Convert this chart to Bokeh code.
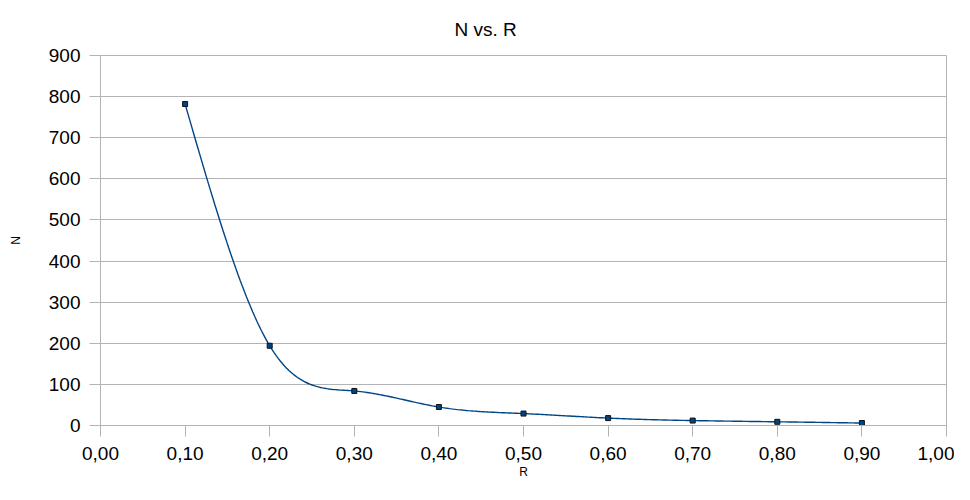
import numpy as np
from bokeh.plotting import figure
from bokeh.models import Range1d, FixedTicker
from bokeh.embed import file_html
from bokeh.resources import INLINE

# ---- data ----
r_values = [0.1, 0.2, 0.3, 0.4, 0.5, 0.6, 0.7, 0.8, 0.9]
n_values = [782, 194, 84, 45, 29, 18, 12, 9, 6]

x_ticks = [0.0, 0.1, 0.2, 0.3, 0.4, 0.5, 0.6, 0.7, 0.8, 0.9, 1.0]
x_tick_labels = ["0,00", "0,10", "0,20", "0,30", "0,40", "0,50",
                 "0,60", "0,70", "0,80", "0,90", "1,00"]
y_ticks = [0, 100, 200, 300, 400, 500, 600, 700, 800, 900]

title_text = "N vs. R"
x_label = "R"
y_label = "N"


def natural_spline(xs, ys, samples=40):
    xs = np.asarray(xs, float)
    ys = np.asarray(ys, float)
    n = len(xs)
    h = np.diff(xs)
    A = np.zeros((n, n))
    b = np.zeros(n)
    A[0, 0] = 1.0
    A[-1, -1] = 1.0
    for i in range(1, n - 1):
        A[i, i - 1] = h[i - 1]
        A[i, i] = 2 * (h[i - 1] + h[i])
        A[i, i + 1] = h[i]
        b[i] = 3 * ((ys[i + 1] - ys[i]) / h[i] - (ys[i] - ys[i - 1]) / h[i - 1])
    c = np.linalg.solve(A, b)
    out_x, out_y = [], []
    for i in range(n - 1):
        bi = (ys[i + 1] - ys[i]) / h[i] - h[i] * (2 * c[i] + c[i + 1]) / 3
        di = (c[i + 1] - c[i]) / (3 * h[i])
        t = np.linspace(0, h[i], samples, endpoint=(i == n - 2))
        out_x.extend(xs[i] + t)
        out_y.extend(ys[i] + bi * t + c[i] * t ** 2 + di * t ** 3)
    return out_x, out_y


sx, sy = natural_spline(r_values, n_values)

FONT = "Liberation Sans"
GRID = "#b3b3b3"

p = figure(width=954, height=484, output_backend="svg", toolbar_location=None,
           x_range=Range1d(0, 1), y_range=Range1d(0, 900),
           min_border_left=100, min_border_right=8, min_border_top=55,
           min_border_bottom=59)

p.title.text = title_text
p.title.align = "left"
p.title.offset = 354
p.title.vertical_align = "middle"
p.title.standoff = 30
p.title.text_font = FONT
p.title.text_font_size = "19px"
p.title.text_font_style = "normal"
p.title.text_color = "#000000"

p.line(sx, sy, line_color="#004586", line_width=1.4)
p.scatter(r_values, n_values, marker="square", size=5,
          fill_color="#004586", line_color="#111111", line_width=1)

p.xaxis.ticker = FixedTicker(ticks=x_ticks)
p.xaxis.major_label_overrides = {t: l for t, l in zip(x_ticks, x_tick_labels)}
p.yaxis.ticker = FixedTicker(ticks=y_ticks)

for ax in (p.xaxis, p.yaxis):
    ax.axis_line_color = GRID
    ax.major_tick_line_color = GRID
    ax.minor_tick_line_color = None
    ax.major_tick_out = 11
    ax.major_tick_in = 0
    ax.major_label_text_font = FONT
    ax.major_label_text_font_size = "19px"
    ax.major_label_text_color = "#000000"
    ax.axis_label_text_font = FONT
    ax.axis_label_text_font_size = "12px"
    ax.axis_label_text_font_style = "normal"
    ax.axis_label_text_color = "#000000"

p.xaxis.axis_label = x_label
p.yaxis.axis_label = y_label
p.xaxis.major_label_standoff = 10
p.yaxis.major_label_standoff = 9
p.xaxis.axis_label_standoff = 2
p.yaxis.axis_label_standoff = 23

p.xgrid.grid_line_color = None
p.ygrid.grid_line_color = GRID
p.outline_line_color = GRID
p.background_fill_color = "white"
p.border_fill_color = "white"

open("out.html", "w").write(file_html(p, INLINE))
